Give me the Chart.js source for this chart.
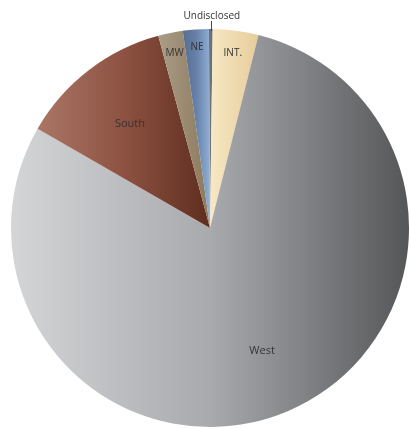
<!DOCTYPE html>
<html>
<head>
<meta charset="utf-8">
<title>Regions</title>
<script src="https://cdn.jsdelivr.net/npm/chart.js@4"></script>
<style>
  html, body { margin: 0; padding: 0; background: #fff; }
  #wrap { width: 409px; height: 429px; position: relative; }
</style>
</head>
<body>
<div id="wrap"><canvas id="pie"></canvas></div>
<script>
// Data (share of total, %)
const regions = ['Undisclosed', 'INT.', 'West', 'South', 'MW', 'NE'];
const shares = [0.3, 3.7, 79.4, 12.5, 2.0, 2.1];

// Styles: gradient stops (left -> right) for each slice
const sliceStops = [
  ['#6f7072', '#6f7072'],
  ['#f7e8c4', '#efdab0', '#e6cc9a'],
  ['#d4d5d7', '#a9aaad', '#555658'],
  ['#aa7666', '#8d5241', '#5e2d1f'],
  ['#aa9c86', '#8b795c'],
  ['#566d8d', '#6781a8', '#90b0d6']
];
// where each label sits, as a fraction of the radius (null = outside label)
const labelRadius = [null, 0.885, 0.67, 0.66, 0.895, 0.91];
const labelSize = [10, 10, 11, 11, 10, 10];

// Paint each slice with a horizontal gradient across its own width
const sliceGradients = {
  id: 'sliceGradients',
  beforeDatasetsDraw(chart) {
    const ctx = chart.ctx;
    chart.getDatasetMeta(0).data.forEach((arc, i) => {
      const p = arc.getProps(['x', 'y', 'startAngle', 'endAngle', 'outerRadius']);
      let minX = p.x, maxX = p.x;
      for (let k = 0; k <= 40; k++) {
        const a = p.startAngle + (p.endAngle - p.startAngle) * k / 40;
        const x = p.x + Math.cos(a) * p.outerRadius;
        minX = Math.min(minX, x);
        maxX = Math.max(maxX, x);
      }
      const g = ctx.createLinearGradient(minX, 0, maxX + 0.01, 0);
      const stops = sliceStops[i];
      stops.forEach((c, j) => g.addColorStop(j / (stops.length - 1), c));
      arc.options.backgroundColor = g;
    });
  }
};

// Slice labels, plus the leader line for the tiny slice at the top
const sliceLabels = {
  id: 'sliceLabels',
  afterDatasetsDraw(chart) {
    const ctx = chart.ctx;
    ctx.save();
    ctx.fillStyle = '#333333';
    ctx.textAlign = 'center';
    ctx.textBaseline = 'middle';
    chart.getDatasetMeta(0).data.forEach((arc, i) => {
      const p = arc.getProps(['x', 'y', 'startAngle', 'endAngle', 'outerRadius']);
      const mid = (p.startAngle + p.endAngle) / 2;
      ctx.font = labelSize[i] + 'px "Open Sans", sans-serif';
      if (labelRadius[i] === null) {
        const ex = p.x + Math.cos(mid) * p.outerRadius;
        const ey = p.y + Math.sin(mid) * p.outerRadius;
        ctx.strokeStyle = '#444';
        ctx.lineWidth = 1;
        ctx.beginPath();
        ctx.moveTo(Math.round(ex) + 0.5, ey + 2);
        ctx.lineTo(Math.round(ex) + 0.5, ey - 8);
        ctx.stroke();
        ctx.fillText(regions[i], ex + 1, ey - 13);
      } else {
        const r = p.outerRadius * labelRadius[i];
        ctx.fillText(regions[i], p.x + Math.cos(mid) * r, p.y + Math.sin(mid) * r);
      }
    });
    ctx.restore();
  }
};

new Chart(document.getElementById('pie'), {
  type: 'pie',
  data: {
    labels: regions,
    datasets: [{
      data: shares,
      backgroundColor: sliceStops.map(s => s[0]),
      borderWidth: 0
    }]
  },
  options: {
    responsive: true,
    maintainAspectRatio: false,
    animation: false,
    rotation: -0.3,
    layout: { padding: { left: 11, right: 0, top: 29, bottom: 2 } },
    plugins: {
      legend: { display: false },
      tooltip: { enabled: false }
    }
  },
  plugins: [sliceGradients, sliceLabels]
});
</script>
</body>
</html>
